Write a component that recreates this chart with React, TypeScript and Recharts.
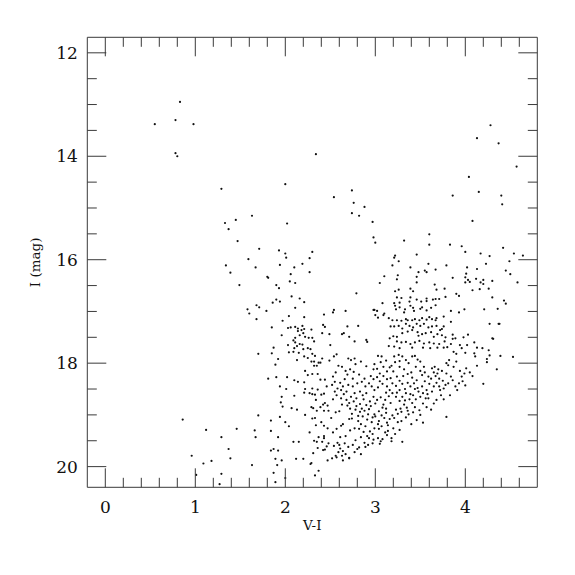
import { ScatterChart, Scatter, XAxis, YAxis } from 'recharts';

// V-I vs I colour-magnitude diagram
const BRIGHT_FIELD = [
  [0.83, 12.95], [0.78, 13.3], [0.55, 13.38], [0.98, 13.38], [0.78, 13.94], [0.8, 14.0],
  [1.29, 14.63], [2.0, 14.54], [2.34, 13.96], [2.54, 14.79], [2.74, 14.66], [2.76, 14.9],
  [2.88, 14.98], [2.74, 15.1], [2.82, 15.15], [4.28, 13.4], [4.13, 13.65], [4.37, 13.75],
  [4.57, 14.2], [4.04, 14.4], [4.15, 14.69], [4.4, 14.76], [4.41, 14.93], [3.86, 14.76],
];

const BLUE_PLUME = [
  [1.63, 15.15], [1.45, 15.23], [1.33, 15.29], [1.37, 15.41], [2.02, 15.3], [1.47, 15.64],
  [1.71, 15.79], [1.93, 15.82], [2.0, 15.88], [2.01, 15.96], [2.3, 15.85], [2.27, 15.97],
  [1.59, 15.99], [1.34, 16.11], [1.39, 16.25], [1.67, 16.15], [1.94, 16.1], [2.1, 16.15],
  [2.19, 16.08], [2.27, 16.24], [2.06, 16.28], [1.8, 16.33], [1.81, 16.35], [1.49, 16.49],
  [2.05, 16.42], [2.11, 16.45], [1.9, 16.49], [1.93, 16.55], [2.07, 16.71], [2.16, 16.75],
  [2.21, 16.82], [1.9, 16.77], [1.86, 16.83], [1.94, 16.81], [1.68, 16.88], [1.71, 16.92],
  [1.58, 16.96], [1.6, 17.04], [1.79, 16.99], [2.11, 16.93], [1.68, 17.15], [2.04, 17.09],
  [2.21, 17.11], [1.97, 17.18], [2.43, 17.06], [1.85, 17.31], [2.03, 17.32], [2.06, 17.31],
  [2.11, 17.3], [2.14, 17.33], [2.14, 17.38], [2.18, 17.36], [2.21, 17.34], [2.19, 17.28],
  [2.29, 17.35], [2.42, 17.26], [2.44, 17.3], [2.16, 17.46], [2.2, 17.42], [1.96, 17.46],
  [2.11, 17.51], [2.22, 17.49], [2.26, 17.51], [2.3, 17.51], [2.32, 17.58], [2.09, 17.56],
  [2.11, 17.6], [2.16, 17.63], [2.19, 17.64], [2.13, 17.67], [2.03, 17.65], [2.1, 17.71],
  [2.2, 17.73], [2.25, 17.71], [2.28, 17.73], [1.87, 17.7], [2.04, 17.79], [2.09, 17.78],
  [2.15, 17.8], [1.85, 17.81], [1.7, 17.82], [2.3, 17.82], [2.33, 17.86], [2.21, 17.87],
  [2.25, 17.9], [1.92, 17.92], [2.13, 17.94], [2.41, 17.91], [2.29, 17.97], [2.32, 17.97],
  [2.37, 17.99], [2.39, 17.99], [1.89, 18.03], [2.32, 18.05], [2.35, 18.05], [2.49, 17.95],
];

const FAINT_BLUE = [
  [0.86, 19.09], [1.12, 19.29], [1.29, 19.43], [1.46, 19.27], [1.37, 19.66], [1.39, 19.84],
  [0.96, 19.79], [1.09, 19.94], [1.18, 19.89], [1.01, 20.16], [1.29, 20.14], [1.27, 20.34],
  [1.63, 19.97], [1.7, 19.01], [1.66, 19.3], [1.67, 19.43], [1.84, 19.11], [1.84, 19.31],
  [1.92, 19.43], [1.84, 19.69], [1.87, 19.66], [1.92, 19.69], [1.89, 19.85], [1.96, 19.88],
  [1.91, 19.97], [1.87, 20.12], [1.89, 20.3], [2.0, 20.22], [2.12, 19.85], [2.2, 19.85],
  [2.28, 19.95], [2.29, 19.93], [2.33, 20.17], [2.37, 20.08], [2.09, 19.52], [2.15, 19.52],
  [1.94, 19.04], [2.0, 19.14], [2.04, 19.22], [1.97, 18.84], [1.95, 18.76], [1.96, 18.65],
  [1.94, 18.45], [2.01, 18.5], [1.81, 18.3], [1.9, 18.27], [2.02, 18.27], [2.07, 18.87],
  [2.13, 18.9], [2.1, 18.63], [2.1, 18.33], [2.14, 18.36], [2.21, 18.37], [2.22, 18.15],
  [2.25, 18.23], [2.3, 18.21], [2.36, 18.21], [2.22, 18.5], [2.21, 18.57], [2.27, 18.58],
  [2.3, 18.49], [2.3, 18.6], [2.33, 18.61], [2.36, 18.51], [2.39, 18.32], [2.44, 18.32],
  [2.46, 18.45], [2.4, 18.61], [2.43, 18.59], [2.34, 18.71], [2.44, 18.77], [2.42, 18.8],
  [2.47, 18.82], [2.29, 18.85], [2.31, 18.87], [2.39, 18.85], [2.35, 18.92], [2.43, 18.92],
  [2.48, 18.92], [2.22, 19.0], [2.3, 19.07], [2.33, 19.06], [2.4, 19.14], [2.34, 19.2],
  [2.43, 19.21], [2.47, 19.26], [2.27, 19.34], [2.37, 19.43], [2.43, 19.41], [2.43, 19.45],
  [2.32, 19.5], [2.35, 19.52], [2.41, 19.52], [2.48, 19.55], [2.36, 19.64], [2.46, 19.61],
  [2.42, 19.68], [2.44, 19.67], [2.31, 19.74], [2.47, 19.88],
];

const RED_GIANTS = [
  [2.97, 15.27], [4.08, 15.25], [2.98, 15.57], [3.0, 15.67], [3.32, 15.63], [3.6, 15.51],
  [3.6, 15.71], [3.83, 15.71], [3.96, 15.74], [4.0, 15.85], [4.17, 15.88], [4.27, 15.93],
  [4.23, 16.08], [3.46, 15.9], [3.22, 15.92], [3.21, 15.96], [3.26, 16.03], [3.19, 16.11],
  [3.39, 16.15], [3.59, 16.08], [3.79, 16.11], [4.02, 16.15], [4.13, 16.18], [3.55, 16.21],
  [3.57, 16.24], [3.48, 16.24], [3.67, 16.19], [3.1, 16.32], [3.25, 16.3], [3.46, 16.33],
  [4.01, 16.27], [4.0, 16.34], [4.03, 16.39], [4.12, 16.37], [4.2, 16.39], [4.3, 16.41],
  [3.86, 16.35], [3.24, 16.38], [3.46, 16.44], [3.05, 16.45], [4.0, 16.44], [4.05, 16.43],
  [4.17, 16.44], [4.2, 16.47], [3.66, 16.48], [4.08, 16.59], [4.16, 16.57], [4.26, 16.56],
  [3.68, 16.58], [3.77, 16.56], [3.22, 16.61], [3.26, 16.58], [3.39, 16.56], [3.42, 16.61],
  [2.79, 16.65], [3.9, 16.66], [3.93, 16.7], [4.3, 16.73], [3.24, 16.73], [3.29, 16.74],
  [3.39, 16.73], [3.57, 16.75], [3.67, 16.76], [3.78, 16.72], [3.08, 16.84], [3.21, 16.84],
  [3.27, 16.83], [3.38, 16.81], [3.46, 16.77], [3.51, 16.81], [3.57, 16.8], [3.64, 16.77],
  [3.71, 16.76], [2.98, 16.97], [2.99, 16.97], [2.54, 16.97], [2.53, 17.02], [2.67, 16.99],
  [3.02, 16.99], [3.1, 17.04], [3.09, 17.07], [3.03, 17.12], [3.0, 17.07], [3.15, 17.13],
  [3.22, 16.89], [3.23, 16.96], [3.27, 16.92], [3.32, 17.02], [3.33, 16.96], [3.39, 16.89],
  [3.42, 16.93], [3.43, 16.99], [3.5, 16.95], [3.52, 16.92], [3.57, 16.98], [3.62, 16.93],
  [3.67, 16.88], [3.84, 16.99], [3.93, 17.02], [3.99, 16.96], [4.21, 16.96], [4.37, 17.24],
  [4.27, 17.24], [4.3, 17.52], [4.03, 17.45], [3.86, 17.45], [3.84, 17.2], [3.76, 17.1],
  [3.67, 17.17], [3.68, 17.13], [3.63, 17.15], [3.6, 17.11], [3.57, 17.16], [3.52, 17.13],
  [3.49, 17.17], [3.44, 17.15], [3.41, 17.17], [3.36, 17.17], [3.34, 17.15], [3.29, 17.18],
  [3.24, 17.17], [3.19, 17.17], [3.17, 17.29], [3.21, 17.29], [3.26, 17.28], [3.3, 17.33],
  [3.34, 17.24], [3.38, 17.28], [3.42, 17.31], [3.46, 17.24], [3.5, 17.28], [3.54, 17.24],
  [3.59, 17.31], [3.63, 17.29], [3.68, 17.28], [3.74, 17.34], [3.76, 17.29], [2.69, 17.29],
  [2.81, 17.28], [2.49, 17.44], [2.63, 17.44], [2.65, 17.42], [2.71, 17.49], [2.77, 17.58],
  [2.9, 17.55], [2.91, 17.59], [3.16, 17.52], [3.2, 17.48], [3.24, 17.49], [3.3, 17.42],
  [3.36, 17.39], [3.41, 17.36], [3.47, 17.4], [3.48, 17.47], [3.52, 17.44], [3.56, 17.42],
  [3.62, 17.4], [3.65, 17.49], [3.69, 17.44], [3.72, 17.36], [3.74, 17.46], [3.78, 17.5],
  [3.86, 17.53], [3.89, 17.52], [3.98, 17.5], [3.94, 17.65], [3.24, 17.58], [3.29, 17.6],
  [3.34, 17.59], [3.39, 17.63], [3.44, 17.6], [3.49, 17.57], [3.54, 17.62], [3.6, 17.6],
  [3.65, 17.62], [3.71, 17.63], [3.77, 17.58], [3.84, 17.63], [3.15, 17.67], [3.21, 17.68],
  [3.27, 17.71], [3.41, 17.7], [3.53, 17.7], [3.61, 17.71], [3.69, 17.7], [3.76, 17.7],
  [3.8, 17.69], [3.96, 17.71], [4.02, 17.65], [4.1, 17.6], [4.13, 17.7], [4.19, 17.71],
  [2.41, 17.42], [2.5, 17.65], [4.42, 15.77], [4.54, 15.88], [4.64, 15.92], [4.49, 16.03],
  [4.45, 16.21], [4.5, 16.28], [4.58, 16.44], [4.43, 16.79], [4.45, 16.85], [4.36, 16.95],
  [4.38, 17.24], [4.39, 17.86], [4.53, 17.88], [4.26, 17.75], [4.27, 17.85], [4.24, 17.92],
  [4.24, 17.98], [4.35, 18.12], [4.1, 17.81], [4.11, 17.87], [4.31, 17.53],
];

const MAIN_CLUMP = [
  [4.0, 17.8], [3.9, 17.82], [3.87, 17.78], [3.79, 18.0], [3.82, 17.94], [3.9, 17.97],
  [3.99, 18.2], [4.01, 18.1], [3.94, 18.15], [3.96, 18.26], [3.93, 18.39], [3.89, 18.45],
  [3.91, 18.52], [3.87, 18.07], [3.79, 18.2], [3.81, 18.04], [3.75, 18.34], [3.81, 18.39],
  [3.76, 18.49], [3.76, 18.7], [3.79, 19.04], [3.72, 18.52], [3.68, 18.38], [3.69, 18.2],
  [3.7, 18.12], [3.66, 18.07], [3.63, 18.1], [3.65, 18.18], [3.67, 18.25], [3.59, 18.26],
  [3.55, 18.18], [3.52, 18.23], [3.65, 18.45], [3.6, 18.4], [3.57, 18.52], [3.53, 18.58],
  [3.65, 18.78], [3.56, 18.68], [3.5, 18.65], [3.48, 18.55], [3.46, 18.33], [3.43, 18.39],
  [3.5, 18.15], [3.54, 18.07], [3.5, 17.97], [3.47, 17.93], [3.44, 17.86], [3.41, 17.87],
  [3.37, 18.0], [3.34, 17.94], [3.45, 18.07], [3.4, 18.18], [3.36, 18.21], [3.32, 18.12],
  [3.27, 18.07], [3.31, 18.25], [3.27, 18.34], [3.24, 18.26], [3.21, 17.87], [3.26, 17.84],
  [3.3, 17.87], [3.27, 17.96], [3.22, 17.98], [3.18, 18.05], [3.2, 18.16], [3.16, 18.08],
  [3.13, 18.16], [3.09, 18.07], [3.03, 17.86], [3.07, 17.87], [3.06, 17.98], [2.99, 18.02],
  [3.02, 18.11], [3.17, 18.29], [3.13, 18.31], [3.09, 18.25], [3.05, 18.2], [3.02, 18.27],
  [2.98, 18.31], [2.93, 18.39], [2.96, 18.45], [2.99, 18.52], [3.03, 18.47], [3.08, 18.4],
  [3.13, 18.45], [3.16, 18.52], [3.19, 18.39], [3.23, 18.44], [3.27, 18.52], [3.3, 18.4],
  [3.36, 18.38], [3.39, 18.45], [3.42, 18.62], [3.38, 18.7], [3.34, 18.58], [3.3, 18.65],
  [3.27, 18.73], [3.23, 18.65], [3.19, 18.58], [3.15, 18.64], [3.11, 18.71], [3.06, 18.66],
  [3.02, 18.71], [2.98, 18.65], [2.94, 18.74], [2.9, 18.81], [2.87, 18.7], [2.83, 18.79],
  [2.79, 18.68], [2.76, 18.74], [2.73, 18.65], [2.68, 18.71], [2.65, 18.6], [2.62, 18.52],
  [2.57, 18.62], [2.53, 18.7], [2.52, 18.42], [2.55, 18.36], [2.61, 18.38], [2.66, 18.31],
  [2.7, 18.42], [2.75, 18.45], [2.8, 18.39], [2.85, 18.36], [2.89, 18.45], [2.83, 18.55],
  [2.77, 18.58], [2.86, 18.62], [2.9, 18.58], [2.7, 17.91], [2.73, 17.94], [2.77, 17.91],
  [2.78, 18.02], [2.76, 18.17], [2.72, 18.12], [2.67, 18.15], [2.63, 18.07], [2.59, 18.05],
  [2.56, 18.18], [2.53, 18.26], [2.57, 17.83], [2.54, 17.87],
  [4.2, 18.4], [4.0, 18.43], [3.49, 18.91], [3.53, 18.78], [3.59, 18.68], [3.5, 19.0],
  [3.46, 19.1], [3.4, 19.18], [3.68, 18.71], [3.73, 18.62], [3.53, 19.15],
  [2.62, 18.68], [2.68, 18.55], [2.71, 18.77], [2.74, 18.98], [2.79, 18.83], [2.81, 19.02],
  [2.85, 18.88], [2.88, 18.92], [2.92, 18.99], [2.95, 18.83], [2.97, 19.05], [3.0, 18.78],
  [3.03, 19.18], [3.07, 19.01], [3.09, 18.8], [3.12, 18.88], [3.14, 19.2], [3.17, 18.77],
  [3.21, 19.06], [3.25, 18.98], [3.29, 18.94], [3.33, 18.72], [3.36, 18.92], [3.39, 18.6],
  [3.45, 18.7], [3.47, 18.48], [3.52, 18.45], [3.55, 18.35], [3.58, 18.6], [3.62, 18.3],
  [3.71, 18.3], [3.74, 18.15], [3.84, 18.26], [3.86, 18.33], [3.78, 18.42], [3.71, 18.45],
  [3.63, 18.55], [3.44, 18.5], [3.33, 18.5], [3.24, 18.57], [3.12, 18.57], [3.05, 18.35],
  [2.95, 18.25], [2.88, 18.3], [2.82, 18.22], [2.75, 18.3], [2.69, 18.22], [2.64, 18.45],
  [2.58, 18.49], [2.55, 18.55], [2.98, 18.12], [2.9, 18.06], [2.84, 17.97], [3.12, 17.95],
  [3.41, 18.28], [3.57, 18.85], [3.62, 18.9], [3.83, 18.62], [3.97, 18.35], [4.08, 18.25],
  [4.13, 18.05], [4.05, 18.18],
];

const FAINT_CLUMP = [
  [2.93, 18.89], [2.99, 18.99], [3.04, 18.93], [3.08, 18.86], [3.12, 18.96], [3.1, 19.06],
  [3.04, 19.12], [3.0, 19.03], [3.07, 19.22], [3.13, 19.15], [3.16, 19.08], [3.19, 19.01],
  [3.23, 18.9], [3.28, 18.88], [3.32, 18.8], [3.35, 18.86], [3.41, 18.77], [3.44, 18.85],
  [3.42, 18.95], [3.37, 18.99], [3.34, 19.05], [3.29, 19.12], [3.25, 19.14], [3.2, 19.26],
  [3.14, 19.31], [3.11, 19.34], [3.04, 19.27], [2.99, 19.26], [2.96, 19.14], [2.91, 19.09],
  [2.86, 19.03], [2.83, 18.94], [2.78, 18.9], [2.72, 18.88], [2.69, 18.82], [2.63, 18.8],
  [2.6, 18.93], [2.56, 18.95], [2.51, 19.06], [2.53, 19.34], [2.57, 19.27], [2.62, 19.21],
  [2.64, 19.18], [2.71, 19.08], [2.74, 19.07], [2.81, 19.12], [2.84, 19.18], [2.89, 19.22],
  [2.94, 19.32], [2.97, 19.37], [3.03, 19.45], [3.08, 19.47], [2.91, 19.41], [2.87, 19.33],
  [2.82, 19.27], [2.77, 19.26], [2.72, 19.3], [2.67, 19.41], [2.61, 19.43], [2.58, 19.54],
  [2.54, 19.6], [2.56, 19.79], [2.59, 19.72], [2.64, 19.7], [2.7, 19.62], [2.75, 19.58],
  [2.78, 19.49], [2.84, 19.43], [2.88, 19.54], [2.93, 19.45], [2.77, 19.72], [2.71, 19.83],
  [2.67, 19.76], [2.82, 19.63], [2.8, 19.66], [3.13, 19.39], [3.18, 19.45], [3.3, 19.52],
  [3.05, 19.56], [2.52, 19.84], [2.57, 19.82], [2.63, 19.79], [2.71, 19.84], [2.84, 19.76],
  [2.61, 19.65], [2.98, 19.48], [2.92, 19.58], [3.06, 19.51], [3.18, 19.51], [2.97, 19.55],
  [2.89, 19.62], [2.64, 19.88], [2.6, 19.58], [2.66, 19.55], [3.22, 19.37], [3.27, 19.29],
];

const X_DOMAIN = [-0.2, 4.8];
const Y_DOMAIN = [11.7, 20.4];
const X_TICKS = [
  0, 0.2, 0.4, 0.6, 0.8, 1, 1.2, 1.4, 1.6, 1.8, 2, 2.2, 2.4, 2.6, 2.8, 3, 3.2, 3.4, 3.6, 3.8,
  4, 4.2, 4.4, 4.6,
];
const Y_TICKS = [12, 12.5, 13, 13.5, 14, 14.5, 15, 15.5, 16, 16.5, 17, 17.5, 18, 18.5, 19, 19.5, 20];

const STARS = [
  ...BRIGHT_FIELD,
  ...BLUE_PLUME,
  ...FAINT_BLUE,
  ...RED_GIANTS,
  ...MAIN_CLUMP,
  ...FAINT_CLUMP,
].map(([x, y]) => ({ x, y }));

const INK = '#3a3a3a';
const FONT = '"DejaVu Serif", serif';
const MAJOR = 19;
const MINOR = 9.5;

const majorX = (v: number) => Math.abs(v - Math.round(v)) < 1e-6;
const majorY = (v: number) => Math.abs(v / 2 - Math.round(v / 2)) < 1e-6;

function BottomTick({ x, y, payload }: any) {
  const big = majorX(payload.value);
  return (
    <g>
      <line x1={x} x2={x} y1={y} y2={y - (big ? MAJOR : MINOR)} stroke={INK} />
      {big && (
        <text x={x} y={y + 25.4} textAnchor="middle" fontFamily={FONT} fontSize={17} fill="#111">
          {payload.value}
        </text>
      )}
    </g>
  );
}

function TopTick({ x, y, payload }: any) {
  const big = majorX(payload.value);
  return <line x1={x} x2={x} y1={y} y2={y + (big ? MAJOR : MINOR)} stroke={INK} />;
}

function LeftTick({ x, y, payload }: any) {
  const big = majorY(payload.value);
  return (
    <g>
      <line x1={x} x2={x + (big ? MAJOR : MINOR)} y1={y} y2={y} stroke={INK} />
      {big && (
        <text x={x - 9.5} y={y + 6.2} textAnchor="end" fontFamily={FONT} fontSize={17} fill="#111">
          {payload.value}
        </text>
      )}
    </g>
  );
}

function RightTick({ x, y, payload }: any) {
  const big = majorY(payload.value);
  return <line x1={x} x2={x - (big ? MAJOR : MINOR)} y1={y} y2={y} stroke={INK} />;
}

function XTitle({ viewBox }: any) {
  return (
    <text x={viewBox.x + viewBox.width / 2} y={viewBox.y + 42.7} textAnchor="middle" fontFamily={FONT} fontSize={13.5} fill="#111">
      V-I
    </text>
  );
}

function YTitle({ viewBox }: any) {
  const cx = 40;
  const cy = viewBox.y + viewBox.height / 2;
  return (
    <text x={cx} y={cy} transform={`rotate(-90 ${cx} ${cy})`} textAnchor="middle" fontFamily={FONT} fontSize={13.5} fill="#111">
      I (mag)
    </text>
  );
}

const Dot = (p: any) => <circle cx={p.cx} cy={p.cy} r={1.1} fill="#111" />;
const NoDot = () => <g />;

export default function App() {
  return (
    <div style={{ position: 'absolute', left: 0, top: 0, width: 575, height: 575, background: '#fff' }}>
      <ScatterChart width={575} height={575} margin={{ top: 36.3, right: 36.7, bottom: 47.7, left: 0 }}>
        <XAxis
          xAxisId="b"
          type="number"
          dataKey="x"
          domain={X_DOMAIN}
          allowDataOverflow
          ticks={X_TICKS}
          interval={0}
          height={40}
          tickSize={0}
          tickMargin={0}
          tickLine={false}
          axisLine={{ stroke: INK }}
          tick={<BottomTick />}
          label={<XTitle />}
        />
        <XAxis
          xAxisId="t"
          orientation="top"
          type="number"
          dataKey="x"
          domain={X_DOMAIN}
          allowDataOverflow
          ticks={X_TICKS}
          interval={0}
          height={1}
          tickSize={0}
          tickMargin={0}
          tickLine={false}
          axisLine={{ stroke: INK }}
          tick={<TopTick />}
        />
        <YAxis
          yAxisId="l"
          type="number"
          dataKey="y"
          domain={Y_DOMAIN}
          allowDataOverflow
          reversed
          ticks={Y_TICKS}
          interval={0}
          width={87.3}
          tickSize={0}
          tickMargin={0}
          tickLine={false}
          axisLine={{ stroke: INK }}
          tick={<LeftTick />}
          label={<YTitle />}
        />
        <YAxis
          yAxisId="r"
          orientation="right"
          type="number"
          dataKey="y"
          domain={Y_DOMAIN}
          allowDataOverflow
          reversed
          ticks={Y_TICKS}
          interval={0}
          width={1}
          tickSize={0}
          tickMargin={0}
          tickLine={false}
          axisLine={{ stroke: INK }}
          tick={<RightTick />}
        />
        <Scatter xAxisId="t" yAxisId="r" data={STARS} shape={NoDot} isAnimationActive={false} />
        <Scatter xAxisId="b" yAxisId="l" data={STARS} shape={Dot} isAnimationActive={false} />
      </ScatterChart>
    </div>
  );
}
